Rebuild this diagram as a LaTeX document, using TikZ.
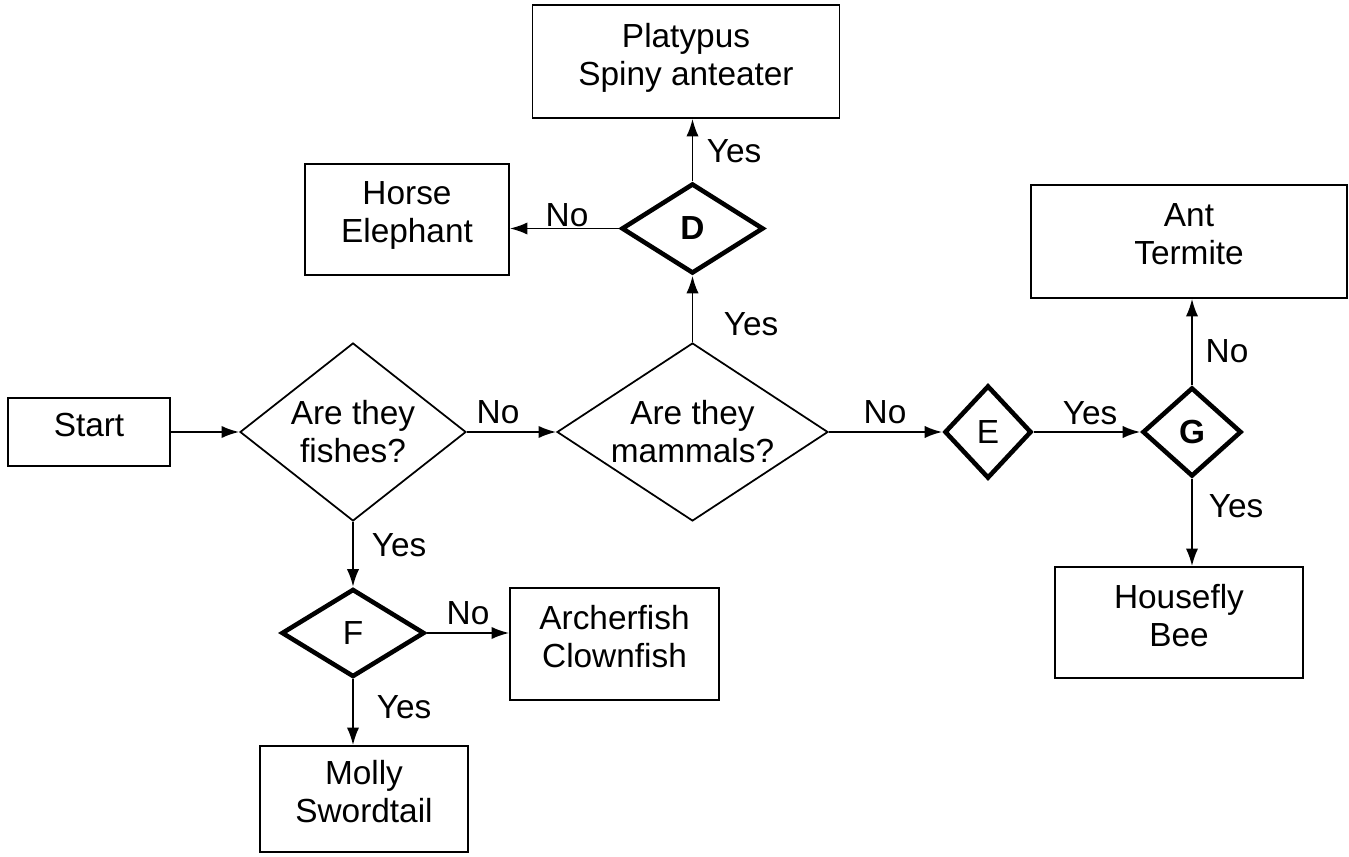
\documentclass[tikz,border=0pt]{standalone}
\usepackage{fontspec}
\setmainfont{Liberation Sans}
\usetikzlibrary{shapes.geometric, arrows.meta, positioning}

\begin{document}
\begin{tikzpicture}[x=0.02cm, y=-0.02cm]
    % Define styles
    \tikzset{
        box/.style={draw, line width=1pt, align=center, text depth=0.3cm, font=\fontsize{19}{21.6}\selectfont},
        question/.style={diamond, draw, line width=1pt, align=center, inner sep=0pt, font=\fontsize{19}{21.6}\selectfont},
        letter/.style={diamond, draw, line width=2.6pt, inner sep=0pt, font=\fontsize{19}{21.6}\selectfont},
        flow/.style={->, >={Latex[length=10pt, width=7pt]}, line width=1.1pt},
        answer/.style={inner sep=0pt, font=\fontsize{19}{21.6}\selectfont}
    }
    \useasboundingbox (0,0) rectangle (1349,857);
    % Boxes
    \node[box, minimum width=3.24cm, minimum height=1.36cm] (start) at (89,432) {Start};
    \node[box, minimum width=6.14cm, minimum height=2.26cm] (plat) at (686,61.5) {Platypus\\Spiny anteater};
    \node[box, minimum width=4.08cm, minimum height=2.22cm] (horse) at (407,219.5) {Horse\\Elephant};
    \node[box, minimum width=6.32cm, minimum height=2.26cm] (ant) at (1189,241.5) {Ant\\Termite};
    \node[box, minimum width=4.96cm, minimum height=2.22cm] (fly) at (1179,622.5) {Housefly\\Bee};
    \node[box, minimum width=4.18cm, minimum height=2.24cm] (archer) at (614.5,644) {Archerfish\\Clownfish};
    \node[box, minimum width=4.16cm, minimum height=2.12cm] (molly) at (364,799) {Molly\\Swordtail};
    % Decisions
    \node[question, aspect=1.27, minimum width=4.52cm, minimum height=3.56cm] (fish) at (353,432) {Are they\\fishes?};
    \node[question, aspect=1.52, minimum width=5.42cm, minimum height=3.56cm] (mam) at (692.5,432) {Are they\\mammals?};
    \node[letter, minimum width=2.84cm, minimum height=1.8cm] (D) at (692.5,228.5) {\textbf{D}};
    \node[letter, minimum width=1.74cm, minimum height=1.86cm] (E) at (988,432) {E};
    \node[letter, minimum width=1.98cm, minimum height=1.78cm] (G) at (1192,432) {\textbf{G}};
    \node[letter, minimum width=2.86cm, minimum height=1.76cm] (F) at (353,633) {F};
    % Connectors
    \draw[flow] (start.east) -- (fish.west);
    \draw[flow] (fish.east) -- (mam.west);
    \draw[flow] (mam.east) -- (E.west);
    \draw[flow] (E.east) -- (G.west);
    \draw[flow] (G.north) -- (G.north |- ant.south);
    \draw[flow] (G.south) -- (G.south |- fly.north);
    \draw[flow] (mam.north) -- (D.south);
    \draw[flow] (D.north) -- (D.north |- plat.south);
    \draw[flow] (D.west) -- (D.west -| horse.east);
    \draw[flow] (fish.south) -- (F.north);
    \draw[flow] (F.east) -- (F.east -| archer.west);
    \draw[flow] (F.south) -- (F.south |- molly.north);
    % Answers
    \node[answer] (fishno) at (498,412) {No};
    \node[answer] (fishyes) at (399,545) {Yes};
    \node[answer] (mamyes) at (751,324) {Yes};
    \node[answer] (mamno) at (885,412) {No};
    \node[answer] (dyes) at (734,151) {Yes};
    \node[answer] (dno) at (567,215) {No};
    \node[answer] (eyes) at (1090,413) {Yes};
    \node[answer] (gno) at (1227,351) {No};
    \node[answer] (gyes) at (1236,506) {Yes};
    \node[answer] (fno) at (468,613) {No};
    \node[answer] (fyes) at (404,707) {Yes};
\end{tikzpicture}
\end{document}
